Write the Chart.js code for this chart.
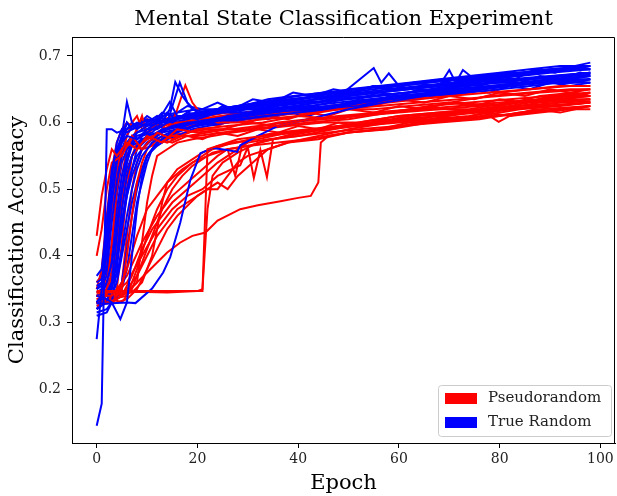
<!DOCTYPE html>
<html>
<head>
<meta charset="utf-8">
<script src="https://cdn.jsdelivr.net/npm/chart.js@4/dist/chart.umd.min.js"></script>
<style>
  html, body { margin: 0; padding: 0; background: #fff; }
  canvas { display: block; }
</style>
</head>
<body>
<canvas id="accChart" width="617" height="496"></canvas>
<script>
// tick labels
var xTicks = [0, 20, 40, 60, 80, 100];
var yTicks = [0.2, 0.3, 0.4, 0.5, 0.6, 0.7];
var chartTitle = 'Mental State Classification Experiment';
var legendLabels = ['Pseudorandom', 'True Random'];
var legendColors = ['#ff0000', '#0000ff'];

// pseudorandom runs, [epoch, accuracy]
var pseudoRuns = [
  [[0,.43],[1,.49],[2,.53],[3,.56],[4,.55],[6,.57],[8,.56],[10,.58],[13,.57],[16,.59],[20,.585],[25,.59],[30,.6],[36,.595],[42,.605],[50,.61],[58,.615],[66,.625],[74,.63],[82,.635],[90,.64],[98,.645]],
  [[0,.40],[1,.44],[2,.5],[3,.54],[5,.55],[7,.58],[9,.56],[12,.585],[15,.575],[20,.59],[26,.595],[33,.6],[40,.61],[48,.605],[55,.615],[63,.62],[71,.63],[80,.625],[88,.64],[95,.645],[98,.64]],
  [[0,.347],[5,.347],[10,.347],[15,.347],[21,.347],[22,.56],[24,.565],[28,.575],[33,.58],[40,.585],[48,.595],[56,.6],[64,.61],[72,.615],[80,.62],[88,.63],[98,.635]],
  [[0,.345],[3,.345],[8,.346],[14,.345],[20,.347],[21,.35],[22,.47],[23,.52],[25,.54],[28,.555],[32,.57],[38,.58],[45,.59],[52,.595],[60,.6],[68,.605],[76,.61],[84,.62],[92,.625],[98,.63]],
  [[0,.33],[2,.33],[4,.335],[6,.345],[8,.36],[10,.375],[12,.39],[14,.405],[16.6,.42],[19,.43],[21.6,.435],[24,.453],[28.5,.47],[32,.476],[36.5,.482],[40,.487],[42.5,.49],[44,.51],[44.5,.57],[46,.58],[50,.585],[56,.59],[62,.6],[70,.605],[78,.61],[86,.615],[92,.62],[98,.625]],
  [[0,.34],[3,.34],[6,.36],[9,.4],[12,.44],[15,.47],[18,.49],[21,.5],[24,.52],[28.5,.536],[30,.563],[31.2,.517],[32.5,.559],[33.8,.518],[35,.575],[36.5,.578],[40,.585],[46,.59],[52,.598],[60,.605],[68,.61],[76,.615],[84,.622],[92,.63],[98,.632]],
  [[0,.33],[3,.33],[5,.34],[7,.37],[9,.41],[11,.44],[13,.46],[15,.48],[18,.5],[21,.52],[24,.54],[27,.555],[30,.57],[34,.575],[40,.58],[47,.59],[55,.6],[63,.605],[72,.615],[80,.62],[88,.625],[98,.63]],
  [[0,.34],[2,.335],[4,.34],[6,.38],[8,.43],[10,.47],[12,.49],[14,.51],[17,.53],[20,.545],[23,.56],[27,.57],[32,.575],[38,.585],[45,.59],[52,.6],[60,.61],[68,.615],[76,.62],[84,.63],[92,.635],[98,.64]],
  [[0,.345],[4,.34],[6,.35],[8,.37],[10,.4],[12,.43],[14,.45],[16,.47],[18,.48],[20,.49],[22,.5],[24,.5],[26,.52],[28,.54],[30,.55],[34,.56],[38,.57],[44,.58],[50,.59],[58,.6],[66,.605],[74,.61],[82,.62],[90,.625],[98,.63]],
  [[0,.33],[4,.33],[6,.335],[8,.35],[10,.38],[12,.41],[14,.44],[16,.46],[18,.475],[20,.49],[22,.5],[24,.51],[26,.5],[28,.52],[31,.54],[34,.56],[38,.57],[44,.575],[50,.585],[57,.59],[64,.6],[72,.605],[80,.61],[88,.62],[98,.625]],
  [[0,.33],[2,.33],[3,.36],[4,.42],[5,.48],[6,.52],[7,.55],[8,.56],[10,.58],[12,.57],[15,.58],[18,.58],[22,.585],[26,.59],[30,.59],[36,.6],[42,.605],[48,.61],[56,.615],[64,.62],[72,.625],[80,.63],[88,.635],[98,.645]],
  [[0,.325],[3,.33],[5,.35],[6,.4],[7,.46],[8,.51],[9,.54],[10,.56],[12,.575],[14,.57],[17,.58],[20,.58],[25,.585],[30,.59],[36,.595],[42,.6],[50,.605],[58,.615],[66,.62],[74,.62],[82,.63],[90,.635],[98,.64]],
  [[0,.335],[2,.34],[4,.4],[5,.47],[6,.52],[7,.55],[9,.57],[11,.58],[13,.585],[15,.6],[16,.62],[17.6,.656],[19,.63],[21,.61],[24,.6],[28,.6],[33,.605],[40,.61],[48,.62],[56,.625],[64,.63],[72,.635],[80,.64],[88,.645],[98,.65]],
  [[0,.34],[3,.345],[6,.345],[8,.36],[9,.42],[10,.48],[11,.52],[12,.55],[14,.56],[16,.57],[19,.575],[23,.58],[27,.585],[32,.59],[38,.595],[45,.6],[52,.6],[60,.61],[68,.615],[76,.62],[84,.625],[92,.63],[98,.635]],
  [[0,.345],[2,.35],[3,.42],[4,.5],[5,.55],[6,.58],[7,.6],[8,.61],[9,.59],[11,.6],[13,.595],[16,.6],[20,.6],[25,.605],[30,.61],[36,.615],[42,.615],[48,.62],[55,.63],[62,.635],[70,.64],[78,.645],[86,.65],[94,.655],[98,.655]],
  [[0,.34],[4,.34],[7,.345],[9,.36],[11,.4],[12,.44],[13,.48],[14,.51],[16,.53],[18,.54],[21,.555],[24,.565],[28,.57],[33,.58],[38,.585],[44,.59],[50,.595],[58,.6],[66,.605],[74,.615],[82,.62],[90,.625],[98,.63]],
  [[0,.33],[3,.335],[5,.33],[7,.35],[9,.39],[11,.43],[13,.47],[15,.5],[17,.52],[19,.535],[21,.545],[23,.555],[26,.56],[30,.565],[35,.575],[40,.58],[46,.585],[52,.59],[60,.595],[68,.6],[76,.605],[84,.615],[92,.62],[98,.62]],
  [[0,.34],[3,.34],[6,.37],[9,.42],[12,.46],[15,.49],[18,.51],[21,.53],[24,.55],[26,.56],[27.5,.52],[29,.57],[32,.58],[36,.585],[42,.59],[48,.595],[55,.6],[62,.61],[70,.615],[78,.62],[86,.63],[94,.635],[98,.635]],
  [[0,.32],[1,.33],[2,.38],[3,.47],[4,.53],[5,.56],[7,.57],[9,.61],[10,.58],[12,.6],[14,.59],[17,.595],[20,.6],[24,.6],[29,.605],[35,.61],[41,.615],[48,.62],[55,.62],[62,.625],[70,.63],[78,.64],[86,.645],[94,.65],[98,.65]],
  [[0,.36],[1,.37],[2,.45],[3,.52],[4,.56],[5,.555],[7,.565],[9,.56],[11,.575],[14,.58],[18,.585],[22,.59],[27,.59],[32,.595],[38,.6],[45,.605],[52,.61],[60,.615],[68,.62],[76,.625],[84,.63],[92,.64],[98,.64]],
  [[0,.33],[2,.33],[4,.35],[5,.42],[6,.5],[7,.55],[8,.57],[10,.575],[13,.59],[16,.6],[20,.605],[25,.61],[30,.615],[35,.62],[40,.615],[46,.625],[52,.63],[58,.63],[64,.635],[70,.64],[74,.645],[77.8,.653],[80,.645],[86,.65],[92,.655],[98,.655]],
  [[0,.335],[3,.335],[6,.34],[8,.38],[10,.43],[12,.47],[14,.5],[16,.52],[19,.54],[22,.55],[26,.56],[30,.565],[36,.57],[42,.575],[50,.585],[58,.59],[66,.6],[74,.605],[78,.61],[79.8,.601],[82,.61],[88,.615],[94,.62],[98,.625]],
  [[0,.34],[2,.34],[3,.38],[4,.46],[5,.52],[6,.56],[7,.575],[8,.59],[9,.6],[10,.585],[12,.6],[14,.59],[16,.6],[18,.595],[21,.6],[24,.595],[27,.605],[30,.6],[34,.61],[38,.605],[42,.615],[46,.61],[50,.62],[55,.615],[60,.625],[65,.62],[70,.63],[75,.625],[80,.635],[85,.63],[90,.64],[94,.635],[98,.645]],
  [[0,.33],[3,.33],[5,.36],[6,.43],[7,.5],[8,.54],[9,.56],[11,.565],[13,.575],[15,.57],[18,.58],[21,.575],[24,.585],[28,.58],[32,.59],[36,.585],[40,.595],[44,.59],[48,.6],[52,.595],[57,.605],[62,.6],[67,.61],[72,.605],[77,.615],[82,.61],[87,.62],[92,.615],[98,.625]],
  [[0,.35],[1,.38],[2,.46],[3,.53],[4,.57],[5,.59],[6,.6],[8,.59],[10,.605],[12,.6],[15,.61],[18,.605],[22,.61],[26,.615],[30,.61],[34,.62],[38,.615],[42,.625],[46,.62],[50,.63],[55,.625],[60,.635],[65,.63],[70,.64],[75,.635],[80,.645],[85,.64],[90,.65],[94,.645],[98,.65]]
];

// true random runs
var trueRuns = [
  [[0,.145],[1,.178],[2,.59],[3,.59],[4,.585],[6,.59],[8,.6],[10,.595],[13,.6],[16,.605],[20,.61],[25,.615],[30,.62],[36,.625],[42,.63],[48,.635],[55,.64],[62,.645],[70,.65],[78,.655],[86,.66],[94,.665],[98,.67]],
  [[0,.275],[1,.35],[2,.45],[3,.53],[4,.56],[5,.57],[6,.58],[8,.575],[10,.59],[12,.6],[15,.605],[18,.61],[22,.615],[27,.62],[33,.625],[40,.63],[47,.64],[54,.645],[61,.65],[68,.655],[75,.66],[82,.665],[90,.67],[98,.675]],
  [[0,.34],[2,.335],[3,.33],[4.7,.305],[6,.33],[7,.4],[8,.47],[9,.52],[10,.55],[12,.57],[14,.58],[16,.59],[19,.6],[23,.605],[28,.61],[34,.62],[40,.625],[47,.635],[54,.64],[62,.645],[70,.655],[78,.66],[86,.665],[94,.67],[98,.672]],
  [[0,.329],[2,.328],[4,.329],[6,.33],[7.7,.329],[11,.351],[13.2,.375],[14.6,.398],[16.6,.45],[18.6,.514],[20.6,.554],[23,.562],[25.9,.559],[27.9,.556],[28.5,.566],[32,.58],[36,.595],[42,.605],[50,.62],[57,.63],[65,.64],[73,.645],[81,.655],[90,.66],[98,.665]],
  [[0,.33],[1,.34],[2,.42],[3,.5],[4,.55],[5,.58],[6,.631],[7,.6],[8,.59],[10,.6],[12,.61],[15,.6],[18,.615],[21,.61],[25,.62],[30,.625],[35,.63],[40,.635],[46,.64],[52,.645],[58,.65],[64,.655],[70,.66],[76,.665],[82,.67],[88,.675],[94,.68],[98,.685]],
  [[0,.37],[1,.38],[2,.45],[3,.52],[4,.57],[5,.59],[6,.585],[8,.595],[10,.605],[12,.6],[14.5,.631],[16,.61],[19,.61],[23,.615],[28,.62],[33,.625],[38,.63],[44,.635],[50,.64],[56,.645],[62,.65],[68,.655],[74,.66],[80,.665],[86,.665],[92,.67],[98,.675]],
  [[0,.33],[2,.33],[3,.36],[4,.43],[5,.5],[6,.55],[7,.57],[9,.58],[11,.585],[13,.6],[14.5,.62],[15.6,.661],[17,.64],[19,.62],[22,.615],[26,.62],[31,.625],[37,.63],[43,.64],[49,.645],[55,.682],[56.5,.66],[58,.674],[60,.655],[66,.66],[72,.665],[78,.67],[84,.675],[90,.68],[98,.685]],
  [[0,.31],[2,.315],[3,.33],[4,.38],[5,.45],[6,.5],[7,.53],[8,.55],[10,.57],[12,.58],[14,.59],[17,.595],[20,.6],[24,.605],[29,.61],[34,.615],[40,.62],[46,.625],[52,.63],[58,.635],[64,.64],[70,.645],[76,.65],[82,.655],[88,.66],[94,.665],[98,.665]],
  [[0,.32],[1,.325],[2,.33],[3,.35],[4,.4],[5,.47],[6,.52],[7,.55],[8,.565],[10,.58],[12,.585],[15,.595],[18,.6],[22,.6],[26,.61],[31,.615],[36,.62],[42,.625],[48,.63],[54,.635],[60,.64],[66,.645],[72,.655],[78,.66],[84,.66],[90,.665],[98,.67]],
  [[0,.35],[1,.36],[2,.38],[3,.45],[4,.51],[5,.55],[6,.57],[7,.58],[9,.59],[11,.6],[14,.605],[17,.61],[20,.605],[24,.615],[28,.62],[33,.62],[38,.63],[44,.635],[50,.64],[56,.645],[62,.65],[68,.655],[70,.679],[71.3,.66],[72.7,.679],[75,.665],[80,.67],[86,.675],[92,.68],[98,.69]],
  [[0,.34],[2,.345],[3,.36],[4,.37],[5,.41],[6,.46],[7,.5],[8,.53],[9,.55],[11,.57],[13,.58],[16,.59],[19,.6],[23,.605],[27,.61],[32,.615],[37,.62],[43,.625],[49,.635],[55,.64],[61,.645],[67,.65],[73,.655],[79,.66],[85,.665],[91,.67],[98,.675]],
  [[0,.33],[1,.34],[2,.36],[3,.39],[4,.45],[5,.5],[6,.54],[7,.57],[8,.585],[10,.59],[12,.59],[14,.6],[16.5,.66],[18,.63],[20,.615],[24,.62],[28,.625],[34,.63],[40,.635],[46,.645],[52,.65],[58,.655],[64,.66],[70,.665],[76,.67],[82,.675],[88,.675],[94,.68],[98,.68]],
  [[0,.325],[2,.33],[4,.335],[5,.36],[6,.41],[7,.46],[8,.5],[9,.53],[10,.55],[12,.57],[14,.58],[16,.585],[19,.595],[22,.6],[26,.605],[30,.61],[35,.615],[40,.62],[46,.625],[52,.63],[58,.635],[64,.64],[70,.645],[76,.65],[82,.655],[88,.66],[94,.66],[98,.665]],
  [[0,.36],[1,.365],[2,.4],[3,.48],[4,.54],[5,.575],[6,.6],[7,.59],[9,.595],[11,.6],[13,.61],[16,.615],[20,.62],[24,.62],[29,.625],[34,.635],[39,.64],[45,.645],[51,.65],[57,.655],[63,.66],[69,.665],[75,.665],[81,.67],[87,.675],[93,.68],[98,.68]],
  [[0,.315],[2,.32],[3,.33],[5,.35],[6,.38],[7,.43],[8,.48],[9,.51],[10,.54],[11,.56],[13,.575],[15,.585],[18,.59],[21,.6],[25,.6],[29,.605],[34,.61],[40,.615],[46,.62],[52,.625],[58,.635],[64,.64],[70,.645],[76,.65],[82,.655],[88,.66],[94,.66],[98,.665]],
  [[0,.35],[1,.355],[2,.37],[3,.42],[4,.49],[5,.54],[6,.56],[8,.575],[10,.585],[12,.595],[15,.6],[18,.605],[21,.61],[25,.615],[30,.615],[35,.625],[40,.63],[46,.64],[50,.645],[55,.655],[60,.65],[66,.655],[72,.66],[78,.665],[84,.67],[90,.675],[98,.68]],
  [[0,.33],[1,.335],[2,.34],[3,.37],[4,.41],[5,.45],[6,.49],[7,.52],[8,.54],[9,.56],[11,.575],[13,.585],[16,.59],[20,.595],[24,.6],[28,.605],[33,.61],[38,.615],[44,.62],[50,.625],[56,.63],[62,.635],[68,.64],[74,.645],[80,.65],[86,.655],[92,.66],[98,.66]],
  [[0,.34],[2,.34],[3,.35],[4,.39],[5,.44],[6,.49],[7,.53],[8,.56],[9,.58],[10,.59],[12,.6],[14,.605],[17,.61],[20,.615],[24,.62],[28,.625],[33,.63],[38,.635],[44,.64],[50,.65],[56,.655],[62,.66],[68,.665],[74,.67],[80,.675],[86,.68],[92,.685],[98,.685]],
  [[0,.32],[1,.33],[2,.35],[3,.41],[4,.47],[5,.52],[6,.55],[7,.565],[9,.575],[11,.58],[13,.59],[16,.595],[19,.6],[23,.6],[27,.605],[32,.61],[37,.615],[42,.62],[48,.625],[54,.63],[60,.64],[66,.645],[72,.65],[78,.655],[84,.66],[90,.665],[98,.67]],
  [[0,.33],[2,.335],[3,.34],[4,.36],[5,.4],[6,.44],[7,.48],[8,.51],[9,.53],[10,.55],[12,.565],[14,.575],[16,.58],[19,.59],[22,.595],[26,.6],[30,.605],[35,.61],[40,.615],[45,.62],[50,.63],[56,.635],[62,.64],[68,.645],[74,.65],[80,.655],[86,.66],[92,.665],[98,.66]],
  [[0,.355],[1,.36],[2,.4],[3,.47],[4,.52],[5,.56],[6,.58],[7,.595],[9,.6],[11,.605],[14,.6],[17,.61],[20,.615],[24,.62],[28,.625],[32,.63],[36,.635],[40,.64],[45,.645],[50,.645],[55,.65],[60,.655],[66,.66],[72,.665],[78,.67],[84,.675],[90,.68],[98,.685]],
  [[0,.345],[1,.35],[2,.36],[3,.39],[4,.44],[5,.49],[6,.53],[7,.55],[8,.56],[10,.575],[12,.585],[14,.59],[17,.6],[21,.605],[25,.61],[29,.615],[34,.62],[39,.625],[44,.63],[50,.635],[56,.64],[62,.645],[68,.65],[74,.655],[80,.66],[86,.665],[92,.67],[98,.675]],
  [[0,.33],[1,.34],[2,.4],[3,.48],[4,.54],[5,.57],[6,.59],[7,.6],[8,.595],[10,.61],[12,.6],[14,.615],[16,.605],[19,.62],[22,.61],[25,.625],[28,.615],[32,.63],[36,.62],[40,.635],[44,.63],[48,.64],[52,.635],[56,.645],[60,.64],[64,.65],[68,.645],[72,.66],[76,.655],[80,.665],[84,.66],[88,.67],[92,.665],[96,.675],[98,.672]],
  [[0,.34],[2,.34],[3,.36],[4,.42],[5,.49],[6,.54],[7,.565],[8,.58],[10,.585],[12,.595],[14,.59],[17,.6],[20,.595],[23,.605],[26,.6],[30,.61],[34,.605],[38,.615],[42,.61],[46,.62],[50,.63],[54,.625],[58,.64],[62,.635],[66,.645],[70,.64],[74,.65],[78,.645],[82,.655],[86,.65],[90,.66],[94,.655],[98,.66]],
  [[0,.36],[1,.37],[2,.44],[3,.51],[4,.56],[5,.58],[6,.6],[7,.59],[9,.605],[11,.6],[13,.615],[15,.61],[18,.625],[21,.62],[24,.63],[27,.62],[31,.635],[35,.63],[39,.645],[43,.64],[47,.65],[51,.645],[55,.655],[59,.65],[63,.66],[67,.655],[71,.665],[75,.66],[79,.67],[83,.665],[87,.68],[91,.675],[95,.685],[98,.68]]
];

var SERIF = "'DejaVu Serif', 'Liberation Serif', serif";

function toPoints(run) {
  return run.map(function(p){ return {x: p[0], y: p[1]}; });
}

var datasets = [];
var n = Math.max(pseudoRuns.length, trueRuns.length);
for (var i = 0; i < n; i++) {
  if (trueRuns[i]) datasets.push({label: legendLabels[1], data: toPoints(trueRuns[i]), borderColor: legendColors[1]});
  if (pseudoRuns[i]) datasets.push({label: legendLabels[0], data: toPoints(pseudoRuns[i]), borderColor: legendColors[0]});
}

// title centred over the axes, top/right spines, boxed legend in the lower right
var framePlugin = {
  id: 'frame',
  afterDraw: function(chart) {
    var ctx = chart.ctx, a = chart.chartArea;
    var L = Math.round(a.left), R = Math.round(a.right), T = Math.round(a.top), B = Math.round(a.bottom);
    ctx.save();
    ctx.strokeStyle = '#000';
    ctx.lineWidth = 1;
    ctx.beginPath();
    ctx.moveTo(L, T + 0.5); ctx.lineTo(R - 0.5, T + 0.5); ctx.lineTo(R - 0.5, B);
    ctx.stroke();

    ctx.fillStyle = '#000';
    ctx.font = '21px ' + SERIF;
    ctx.textAlign = 'center';
    ctx.textBaseline = 'middle';
    ctx.fillText(chartTitle, (a.left + a.right) / 2, 20);

    var bw = 173, bh = 51;
    var bx = a.right - 4 - bw, by = a.bottom - 7 - bh;
    ctx.beginPath();
    if (ctx.roundRect) ctx.roundRect(bx + 0.5, by + 0.5, bw, bh, 3); else ctx.rect(bx + 0.5, by + 0.5, bw, bh);
    ctx.fillStyle = 'rgba(255,255,255,0.8)';
    ctx.fill();
    ctx.strokeStyle = '#cccccc';
    ctx.stroke();
    ctx.font = '15px ' + SERIF;
    ctx.textAlign = 'left';
    for (var k = 0; k < legendLabels.length; k++) {
      var ry = by + 8 + k * 24;
      ctx.fillStyle = legendColors[k];
      ctx.fillRect(bx + 7, ry, 32, 11);
      ctx.fillStyle = '#222';
      ctx.fillText(legendLabels[k], bx + 50, ry + 5.5);
    }
    ctx.restore();
  }
};

new Chart(document.getElementById('accChart'), {
  type: 'line',
  data: { datasets: datasets },
  plugins: [framePlugin],
  options: {
    responsive: false,
    animation: false,
    events: [],
    elements: {
      line: { borderWidth: 2, tension: 0, fill: false },
      point: { radius: 0 }
    },
    layout: { padding: { left: 0, right: 2, top: 37, bottom: 0 } },
    plugins: {
      legend: { display: false },
      tooltip: { enabled: false },
      title: { display: false }
    },
    scales: {
      x: {
        type: 'linear',
        min: -4.9,
        max: 102.9,
        afterFit: function(s) { s.height = 53; },
        afterBuildTicks: function(s) { s.ticks = xTicks.map(function(v){ return {value: v}; }); },
        grid: { drawOnChartArea: false, drawTicks: true, tickLength: 5, color: '#000', tickColor: '#000' },
        border: { display: true, color: '#000', width: 1 },
        ticks: { color: '#222', padding: 3, font: { family: SERIF, size: 14 }, maxRotation: 0 },
        title: { display: true, text: 'Epoch', color: '#000', font: { family: SERIF, size: 21 }, padding: { top: 0, bottom: 0 } }
      },
      y: {
        type: 'linear',
        min: 0.119,
        max: 0.7285,
        afterFit: function(s) { s.width = 72; },
        afterBuildTicks: function(s) { s.ticks = yTicks.map(function(v){ return {value: v}; }); },
        grid: { drawOnChartArea: false, drawTicks: true, tickLength: 5, color: '#000', tickColor: '#000' },
        border: { display: true, color: '#000', width: 1 },
        ticks: {
          color: '#222', padding: 6, font: { family: SERIF, size: 14 },
          callback: function(v) { return v.toFixed(1); }
        },
        title: { display: true, text: 'Classification Accuracy', color: '#000', font: { family: SERIF, size: 21 }, padding: { top: 5, bottom: 0 } }
      }
    }
  }
});
</script>
</body>
</html>
